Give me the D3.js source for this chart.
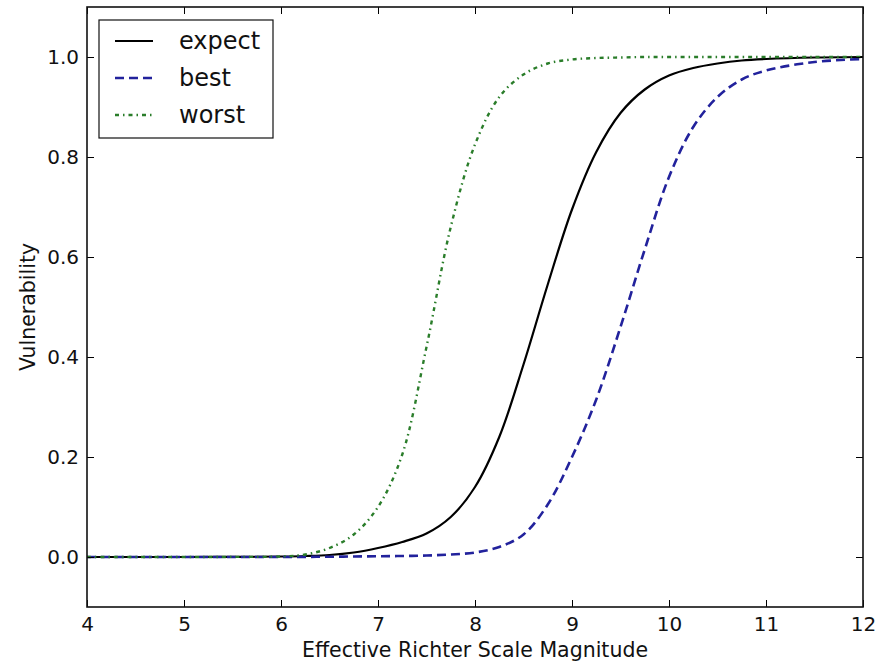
<!DOCTYPE html>
<html>
<head>
<meta charset="utf-8">
<script src="https://cdn.jsdelivr.net/npm/d3@7"></script>
<style>
    body { margin: 0; background: #fff; }
    svg { display: block; font-family: 'DejaVu Sans', sans-serif; }
</style>
</head>
<body>
<svg width="875" height="662"></svg>
<script>
(() => {

    // values
    const magnitude = [4, 5, 5.5, 6, 6.25, 6.5, 6.75, 7, 7.25, 7.5, 7.75, 8, 8.25, 8.5,
            8.75, 9, 9.25, 9.5, 9.75, 10, 10.25, 10.5, 10.75, 11, 11.5, 12];
    const expect = [0, 0, 0.0002, 0.001, 0.002, 0.004, 0.009, 0.018, 0.03, 0.047, 0.08, 0.14,
            0.24, 0.385, 0.545, 0.695, 0.81, 0.888, 0.935, 0.963, 0.978, 0.987, 0.993, 0.996, 0.999, 1.0];
    const best = [0, 0, 0, 0, 0.0003, 0.0005, 0.001, 0.0015, 0.002, 0.003, 0.005, 0.009,
            0.02, 0.045, 0.105, 0.20, 0.315, 0.46, 0.615, 0.76, 0.86, 0.92, 0.955, 0.973, 0.99, 0.996];
    const worst = [0, 0, 0.0002, 0.001, 0.005, 0.018, 0.045, 0.10, 0.205, 0.42, 0.66, 0.825,
            0.92, 0.965, 0.987, 0.995, 0.998, 0.999, 1, 1, 1, 1, 1, 1, 1, 1];

    const xTicks = [4, 5, 6, 7, 8, 9, 10, 11, 12];
    const yTicks = [0.0, 0.2, 0.4, 0.6, 0.8, 1.0];

    const series = [
        {name: 'expect', values: expect, color: '#000000', dash: null, width: 2.2},
        {name: 'best', values: best, color: '#22229c', dash: '9,5', width: 2.6},
        {name: 'worst', values: worst, color: '#2a7d2a', dash: '4,4,1.5,4', width: 2.4}
    ];

    const svg = d3.select('svg');
    const left = 87, top = 7, right = 863, bottom = 607;

    const x = d3.scaleLinear().domain([4, 12]).range([left, right]);
    const y = d3.scaleLinear().domain([-0.1, 1.1]).range([bottom, top]);

    svg.append('defs').append('clipPath')
            .attr('id', 'plot')
            .append('rect')
            .attr('x', left).attr('y', top)
            .attr('width', right - left).attr('height', bottom - top);

    const line = d3.line()
            .x(d => x(d[0]))
            .y(d => y(d[1]))
            .curve(d3.curveCatmullRom.alpha(0.5));

    svg.append('g')
            .attr('clip-path', 'url(#plot)')
            .selectAll('path')
            .data(series)
            .enter().append('path')
            .attr('d', s => line(magnitude.map((m, i) => [m, s.values[i]])))
            .attr('fill', 'none')
            .attr('stroke', s => s.color)
            .attr('stroke-width', s => s.width)
            .attr('stroke-dasharray', s => s.dash);

    // axes, ticks pointing inward on all four sides
    const tickLen = 7;
    const fmt = d3.format('.1f');

    svg.append('g')
            .attr('transform', `translate(0,${bottom})`)
            .call(d3.axisBottom(x).tickValues(xTicks).tickSizeInner(-tickLen).tickSizeOuter(0).tickPadding(10))
            .call(g => g.select('.domain').remove());
    svg.append('g')
            .attr('transform', `translate(0,${top})`)
            .call(d3.axisTop(x).tickValues(xTicks).tickSizeInner(-tickLen).tickSizeOuter(0).tickFormat(''))
            .call(g => g.select('.domain').remove());
    svg.append('g')
            .attr('transform', `translate(${left},0)`)
            .call(d3.axisLeft(y).tickValues(yTicks).tickFormat(fmt).tickSizeInner(-tickLen).tickSizeOuter(0).tickPadding(8))
            .call(g => g.select('.domain').remove());
    svg.append('g')
            .attr('transform', `translate(${right},0)`)
            .call(d3.axisRight(y).tickValues(yTicks).tickSizeInner(-tickLen).tickSizeOuter(0).tickFormat(''))
            .call(g => g.select('.domain').remove());

    svg.selectAll('.tick line').attr('stroke', '#000').attr('stroke-width', 1);
    svg.selectAll('.tick text')
            .attr('font-family', "'DejaVu Sans', sans-serif")
            .attr('font-size', 20)
            .attr('fill', '#111');

    svg.append('rect')
            .attr('x', left).attr('y', top)
            .attr('width', right - left).attr('height', bottom - top)
            .attr('fill', 'none')
            .attr('stroke', '#111')
            .attr('stroke-width', 1.6);

    svg.append('text')
            .attr('x', (left + right) / 2)
            .attr('y', 657)
            .attr('text-anchor', 'middle')
            .attr('font-size', 20.5)
            .attr('fill', '#111')
            .text('Effective Richter Scale Magnitude');

    svg.append('text')
            .attr('transform', `translate(35,${(top + bottom) / 2}) rotate(-90)`)
            .attr('text-anchor', 'middle')
            .attr('font-size', 20.5)
            .attr('fill', '#111')
            .text('Vulnerability');

    // legend
    const legend = svg.append('g');
    legend.append('rect')
            .attr('x', 99).attr('y', 20)
            .attr('width', 174).attr('height', 118)
            .attr('fill', '#fff')
            .attr('stroke', '#111')
            .attr('stroke-width', 1.2);

    const item = legend.selectAll('g.item')
            .data(series)
            .enter().append('g')
            .attr('class', 'item')
            .attr('transform', (d, i) => `translate(0,${41 + i * 37})`);

    item.append('line')
            .attr('x1', 115).attr('x2', 153)
            .attr('stroke', d => d.color)
            .attr('stroke-width', d => d.width)
            .attr('stroke-dasharray', d => d.dash);

    item.append('text')
            .attr('x', 179)
            .attr('dy', '0.35em')
            .attr('font-size', 24)
            .attr('fill', '#111')
            .text(d => d.name);

})();
</script>
</body>
</html>
